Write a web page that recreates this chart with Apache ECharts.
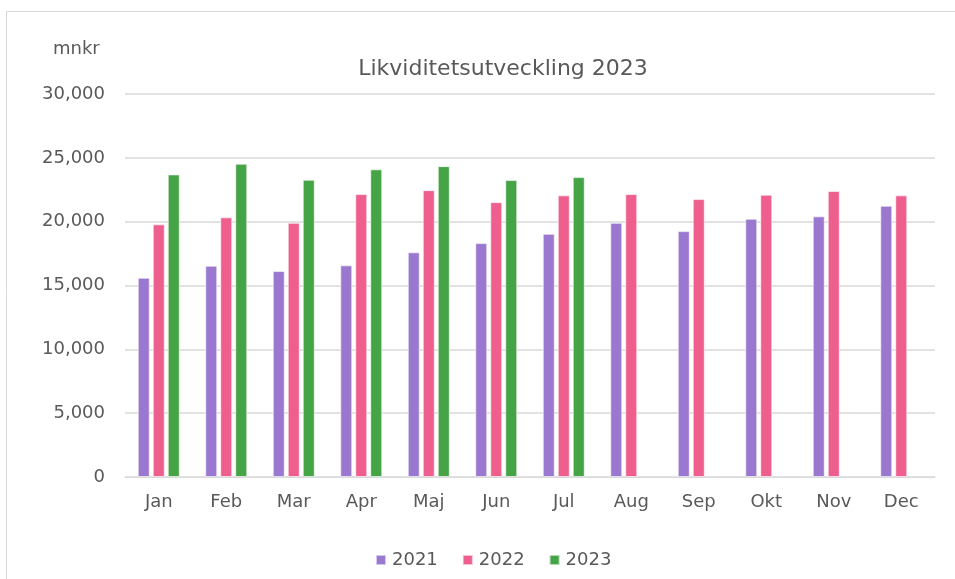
<!DOCTYPE html>
<html><head><meta charset="utf-8">
<script src="https://cdn.jsdelivr.net/npm/echarts@6/dist/echarts.min.js"></script>
<style>html,body{margin:0;padding:0;background:#fff}#c{width:955px;height:579px}</style>
</head><body><div id="c"></div>
<script>
const categories = ['Jan','Feb','Mar','Apr','Maj','Jun','Jul','Aug','Sep','Okt','Nov','Dec'];
const v2021 = [15610,16550,16130,16580,17600,18320,19050,19910,19260,20230,20420,21250];
const v2022 = [19790,20340,19910,22160,22470,21530,22060,22160,21770,22110,22400,22060];
const v2023 = [23700,24540,23280,24100,24350,23260,23490,null,null,null,null,null];
const seriesNames = ['2021','2022','2023'];
const colors = ['#9a78cf','#ee5f8d','#44a446'];
const font = 'DejaVu Sans, Verdana, sans-serif';
const chart = echarts.init(document.getElementById('c'));
const mk = (name, data, i) => ({
  name, type: 'bar', data, barWidth: 12, barGap: '25%',
  itemStyle: { color: colors[i], borderColor: 'rgba(255,255,255,0.6)', borderWidth: 1 }
});
chart.setOption({
  animation: false,
  graphic: [
    { type: 'rect', shape: { x: 6.5, y: 11.5, width: 960, height: 580 }, style: { fill: 'none', stroke: '#d9d9d9', lineWidth: 1 } },
    { type: 'text', left: 53, top: 40, style: { text: 'mnkr', font: '18px DejaVu Sans', fill: '#595959' } }
  ],
  title: { text: 'Likviditetsutveckling 2023', left: 498, top: 53, textAlign: 'center',
    textStyle: { fontFamily: font, fontWeight: 'normal', fontSize: 22, color: '#595959' } },
  legend: { bottom: 5, left: 370, itemWidth: 10, itemHeight: 10, itemGap: 24, icon: 'rect',
    textStyle: { fontFamily: font, fontSize: 18, color: '#595959', padding: [0, 0, 0, 1] } },
  grid: { left: 125, right: 20, top: 94, bottom: 102, containLabel: false },
  xAxis: { type: 'category', data: categories,
    axisLine: { show: true, lineStyle: { color: '#d9d9d9' } }, axisTick: { show: false },
    axisLabel: { fontFamily: font, fontSize: 18, color: '#595959', margin: 16 } },
  yAxis: { type: 'value', min: 0, max: 30000, interval: 5000,
    axisLabel: { fontFamily: font, fontSize: 18, color: '#595959', margin: 20,
      formatter: v => v.toLocaleString('en-US') },
    splitLine: { lineStyle: { color: '#d9d9d9', width: 1.5 } } },
  series: [mk(seriesNames[0], v2021, 0), mk(seriesNames[1], v2022, 1), mk(seriesNames[2], v2023, 2)]
});
</script></body></html>
